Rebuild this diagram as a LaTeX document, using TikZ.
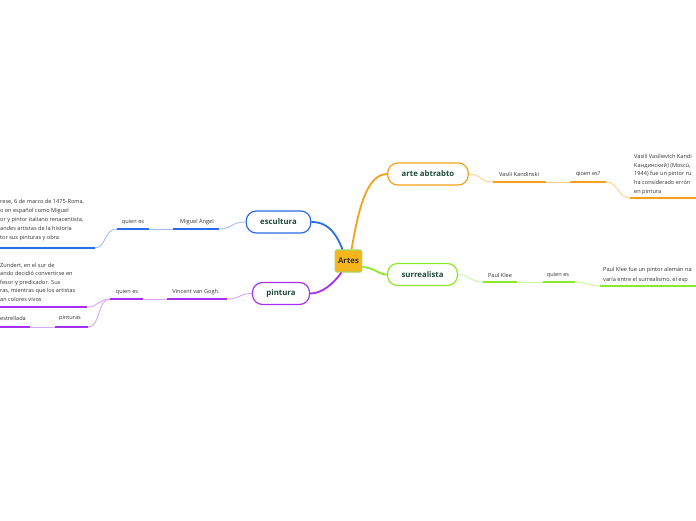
\documentclass[tikz,border=0pt]{standalone}
\usepackage{fontspec}
\setmainfont{Open Sans}
\definecolor{cOr}{HTML}{F8A01C}
\definecolor{cOrL}{HTML}{FCD38C}
\definecolor{cGr}{HTML}{8DE82A}
\definecolor{cGrL}{HTML}{C9F59B}
\definecolor{cBl}{HTML}{2D6BE8}
\definecolor{cBlL}{HTML}{A2BDF4}
\definecolor{cPu}{HTML}{A630F0}
\definecolor{cPuL}{HTML}{D8A6F8}
\definecolor{nodegreen}{HTML}{1F4A3A}
\definecolor{artesfill}{HTML}{F6B51C}
\definecolor{artesline}{HTML}{A9D65C}
\begin{document}
\begin{tikzpicture}[x=1pt,y=-1pt,
  small/.style={font=\fontsize{5.6}{6.5}\selectfont, text=black!80, inner sep=0pt},
  blk/.style={small, anchor=base west},
  mainbox/.style={draw, line width=1.2pt, rounded corners=10pt, fill=white,
    minimum height=22pt, inner xsep=14pt, inner ysep=0pt,
    font=\fontsize{7.8}{9}\selectfont\bfseries, text=nodegreen},
  artesbox/.style={draw=artesline, fill=artesfill, line width=1.1pt, rounded corners=1.5pt,
    minimum height=22pt, inner xsep=3pt, inner ysep=0pt,
    font=\fontsize{7.8}{9}\selectfont\bfseries, text=black!80},
  trunk/.style={line width=1.8pt},
  thinl/.style={line width=0.9pt},
  ul/.style={line width=1.8pt}
]
\useasboundingbox (0,0) rectangle (696,520);
\clip (0,0) rectangle (696,520);

% central and main nodes
\node[artesbox] (artes) at (348.5,261) {Artes};
\node[mainbox, draw=cOr] (abs) at (428,174) {arte abtrabto};
\node[mainbox, draw=cGr] (sur) at (422.5,274.5) {surrealista};
\node[mainbox, draw=cBl] (esc) at (278.5,222) {escultura};
\node[mainbox, draw=cPu] (pin) at (281,293.5) {pintura};

% trunks
\draw[cOr, trunk] ([xshift=3pt]artes.north) .. controls (358,212) and (366,174) .. (abs.west);
\draw[cBl, trunk] ([xshift=-6pt]artes.north) .. controls (337,236) and (330,222) .. (esc.east);
\draw[cPu, trunk] ([xshift=-7pt]artes.south) .. controls (333,284) and (322,293.5) .. (pin.east);
\draw[cGr, trunk] ([yshift=-6pt]artes.east) .. controls (376,268) and (378,274.5) .. (sur.west);

% ---- arte abtrabto branch
\node[small] (vk) at (519,174) {Vasili Kandinski};
\node[small] (vkq) at (588,174) {qioen es?};
\coordinate (vkA) at (493,182);
\coordinate (vkB) at (546,182);
\coordinate (vkqA) at (570,182);
\coordinate (vkqB) at (606,182);
\coordinate (ktA) at (630,198);
\coordinate (ktB) at (700,198);
\draw[cOrL, thinl] (abs.east) .. controls (481,174) and (480,182) .. (vkA);
\draw[cOr, ul] (vkA) -- (vkB);
\draw[cOrL, thinl] (vkB) -- (vkqA);
\draw[cOr, ul] (vkqA) -- (vkqB);
\draw[cOrL, thinl] (vkqB) .. controls (618,182) and (618,198) .. (ktA);
\draw[cOr, ul] (ktA) -- (ktB);
\node[blk] (kbA) at (634,158.5) {Vasili Vasílievich Kandi};
\node[blk] (kbB) at (634,167.2) {Кандинский) (Moscú,};
\node[blk] (kbC) at (634,175.9) {1944) fue un pintor ru};
\node[blk] (kbD) at (634,184.6) {ha considerado errón};
\node[blk] (kbE) at (634,193.3) {en pintura};

% ---- surrealista branch
\node[small] (pk) at (500,275) {Paul Klee};
\node[small] (pkq) at (558,275) {quien es};
\coordinate (pkA) at (483,282);
\coordinate (pkB) at (517,282);
\coordinate (pqA) at (543,282);
\coordinate (pqB) at (575,282);
\coordinate (klA) at (600,286);
\coordinate (klB) at (700,286);
\draw[cGrL, thinl] (sur.east) .. controls (470,274.5) and (470,282) .. (pkA);
\draw[cGr, ul] (pkA) -- (pkB);
\draw[cGrL, thinl] (pkB) -- (pqA);
\draw[cGr, ul] (pqA) -- (pqB);
\draw[cGrL, thinl] (pqB) .. controls (588,282) and (588,286) .. (klA);
\draw[cGr, ul] (klA) -- (klB);
\node[blk] (lbA) at (603,271.5) {Paul Klee fue un pintor alemán na};
\node[blk] (lbB) at (603,281) {varía entre el surrealismo, el exp};

% ---- escultura branch
\node[small] (ma) at (197,222) {Miguel Ángel};
\node[small] (maq) at (133,222) {quien es};
\coordinate (maA) at (173,229);
\coordinate (maB) at (219,229);
\coordinate (mqA) at (117,229);
\coordinate (mqB) at (149,229);
\coordinate (ebA) at (95,248);
\coordinate (ebB) at (-5,248);
\draw[cBlL, thinl] (esc.west) .. controls (231,222) and (232,229) .. (maB);
\draw[cBl, ul] (maA) -- (maB);
\draw[cBlL, thinl] (mqB) -- (maA);
\draw[cBl, ul] (mqA) -- (mqB);
\draw[cBlL, thinl] (mqA) .. controls (104,229) and (106,248) .. (ebA);
\draw[draw=cBl, ul] (ebA) -- (ebB);
\node[blk] (etA) at (0,203) {rese, 6 de marzo de 1475-Roma,};
\node[blk] (etB) at (0,212) {o en español como Miguel};
\node[blk] (etC) at (0,221) {or y pintor italiano renacentista,};
\node[blk] (etD) at (0,230) {andes artistas de la historia};
\node[blk] (etE) at (0,239) {tor sus pinturas y obra};

% ---- pintura branch
\node[small] (vg) at (196,292) {Vincent van Gogh.};
\node[small] (vgq) at (127,292) {quien es};
\coordinate (vgA) at (167,299);
\coordinate (vgB) at (227,299);
\coordinate (vqA) at (110,299);
\coordinate (vqB) at (143,299);
\coordinate (pbA) at (87,307);
\coordinate (pbB) at (-5,307);
\coordinate (ppA) at (55,327);
\coordinate (ppB) at (88,327);
\coordinate (peA) at (-5,327);
\coordinate (peB) at (30,327);
\draw[cPuL, thinl] (pin.west) .. controls (239,293.5) and (240,299) .. (vgB);
\draw[cPu, ul] (vgA) -- (vgB);
\draw[cPuL, thinl] (vqB) -- (vgA);
\draw[cPu, ul] (vqA) -- (vqB);
\draw[cPuL, thinl] (vqA) .. controls (98,299) and (99,307) .. (pbA);
\draw[cPu, ul] (pbA) -- (pbB);
\draw[cPuL, thinl] (vqA) .. controls (97,299) and (101,327) .. (ppB);
\draw[cPu, ul] (ppA) -- (ppB);
\draw[cPuL, thinl] (peB) -- (ppA);
\draw[cPu, ul] (peA) -- (peB);
\node[blk] (ptA) at (0,267) {Zundert, en el sur de};
\node[blk] (ptB) at (0,275.6) {ando decidió convertirse en};
\node[blk] (ptC) at (0,284.2) {fesor y predicador. Sus};
\node[blk] (ptD) at (0,292.8) {ras, mientras que los artistas};
\node[blk] (ptE) at (0,301.4) {an colores vivos};
\node[small] (pint) at (70,318) {pinturas};
\node[small, anchor=east] (estr) at (26,318) {estrellada};
\end{tikzpicture}
\end{document}
